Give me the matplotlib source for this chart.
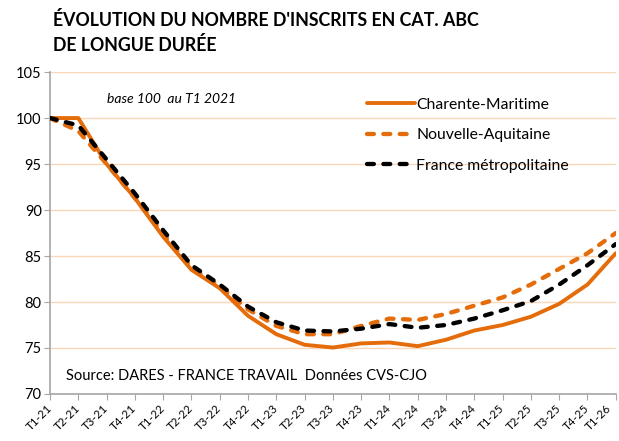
import matplotlib
matplotlib.use("Agg")
import matplotlib.pyplot as plt
from matplotlib.transforms import ScaledTranslation

quarters = ["T1-21", "T2-21", "T3-21", "T4-21", "T1-22", "T2-22", "T3-22", "T4-22",
            "T1-23", "T2-23", "T3-23", "T4-23", "T1-24", "T2-24", "T3-24", "T4-24",
            "T1-25", "T2-25", "T3-25", "T4-25", "T1-26"]
charente = [100.0, 100.0, 95.0, 91.3, 87.1, 83.5, 81.5, 78.5, 76.5, 75.35, 75.05, 75.5, 75.6,
            75.2, 75.9, 76.9, 77.5, 78.4, 79.8, 81.9, 85.3]
nouvelle = [100.0, 98.6, 95.0, 91.3, 87.4, 83.7, 81.7, 79.2, 77.4, 76.5, 76.5, 77.4, 78.2,
            78.05, 78.7, 79.6, 80.5, 81.9, 83.6, 85.3, 87.5]
france = [100.0, 99.2, 95.5, 91.8, 87.8, 84.0, 81.9, 79.5, 77.8, 76.9, 76.8, 77.1, 77.6,
          77.2, 77.5, 78.2, 79.1, 80.1, 81.9, 84.0, 86.3]
series_names = ["Charente-Maritime", "Nouvelle-Aquitaine", "France métropolitaine"]
yticks = [70, 75, 80, 85, 90, 95, 100, 105]

plt.rcParams['font.family'] = ['Lato', 'DejaVu Sans']

orange = "#E46C0A"
fig = plt.figure(figsize=(6.19, 4.41), dpi=100)
ax = fig.add_axes([0.0808, 0.1066, 0.914, 0.730])

x = list(range(len(quarters)))
ax.plot(x, charente, color=orange, lw=2.8, solid_capstyle='round', solid_joinstyle='round',
        label=series_names[0], zorder=3)
ax.plot(x, nouvelle, color=orange, lw=3.1, dashes=(1.6, 2.2), dash_capstyle='round',
        label=series_names[1], zorder=4)
ax.plot(x, france, color="black", lw=3.1, dashes=(1.6, 2.2), dash_capstyle='round',
        label=series_names[2], zorder=5)

ax.set_xlim(0, len(quarters) - 1)
ax.set_ylim(70, 105)
ax.set_yticks(yticks)
ax.set_yticklabels([str(v) for v in yticks], fontsize=10.5)
ax.set_xticks(x)
labels = ax.set_xticklabels(quarters, rotation=45, ha='right', va='center',
                            rotation_mode='anchor', fontsize=8.3)
ax.tick_params(axis='x', length=4, color="#A6A6A6", pad=5)
ax.tick_params(axis='y', length=4, color="#A6A6A6", pad=2)
last = labels[-1]
last.set_transform(last.get_transform() + ScaledTranslation(-6 / 100, 0, fig.dpi_scale_trans))
for ytk in yticks[1:]:
    ax.axhline(ytk, color="#FBD7B8", lw=1.0, zorder=1)
for s in ["top", "right"]:
    ax.spines[s].set_visible(False)
for s in ["left", "bottom"]:
    ax.spines[s].set_color("#A6A6A6")
    ax.spines[s].set_linewidth(1.2)

leg = ax.legend(loc='upper left', bbox_to_anchor=(0.55, 0.94), frameon=False, fontsize=11.3,
                handlelength=3.0, handletextpad=0.1, labelspacing=1.05, borderaxespad=0)

ax.text(0.10, 0.905, "base 100  au T1 2021", transform=ax.transAxes, fontsize=10, style='italic')
ax.text(0.028, 0.045, "Source: DARES - FRANCE TRAVAIL  Données CVS-CJO", transform=ax.transAxes,
        fontsize=10.5)

fig.text(0.085, 0.955, "ÉVOLUTION DU NOMBRE D'INSCRITS EN CAT. ABC", fontsize=12.8, weight='bold',
         va='center')
fig.text(0.085, 0.897, "DE LONGUE DURÉE", fontsize=12.8, weight='bold', va='center')

fig.savefig("out.png", dpi=100)
